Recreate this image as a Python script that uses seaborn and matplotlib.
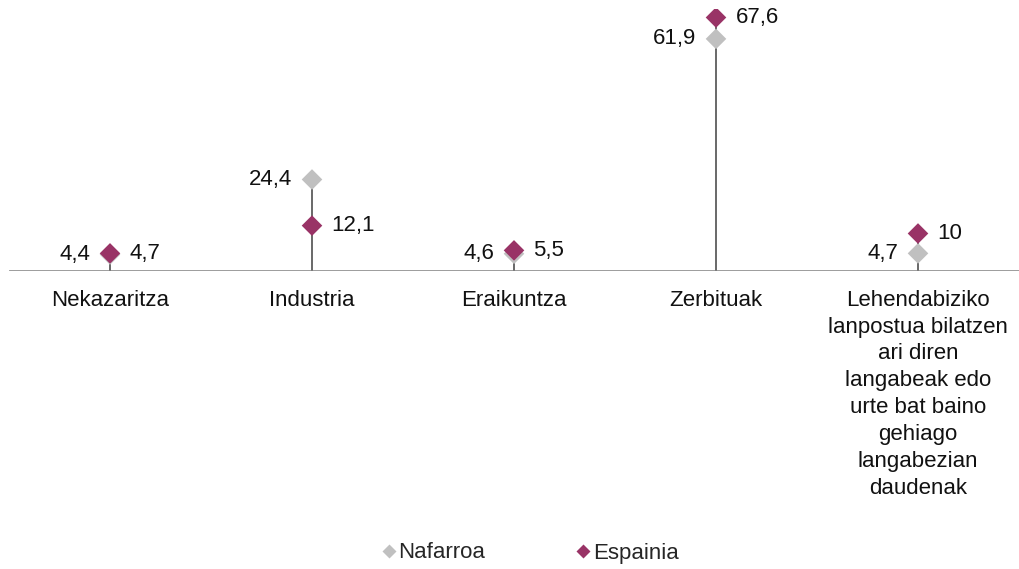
import matplotlib
matplotlib.use("Agg")
import matplotlib.pyplot as plt
import seaborn as sns
import pandas as pd
from matplotlib.lines import Line2D

categories = ["Nekazaritza", "Industria", "Eraikuntza", "Zerbituak",
              "Lehendabiziko\nlanpostua bilatzen\nari diren\nlangabeak edo\nurte bat baino\ngehiago\nlangabezian\ndaudenak"]
nafarroa = [4.4, 24.4, 4.6, 61.9, 4.7]
espainia = [4.7, 12.1, 5.5, 67.6, 10.0]
nafarroa_labels = ["4,4", "24,4", "4,6", "61,9", "4,7"]
espainia_labels = ["4,7", "12,1", "5,5", "67,6", "10"]
series_names = ["Nafarroa", "Espainia"]
colors = {"Nafarroa": "#C0C0C0", "Espainia": "#993366"}

sns.set_theme(style="white")
plt.rcParams["font.family"] = ["Liberation Sans", "DejaVu Sans"]
FS = 16

df = pd.DataFrame({
    "cat": categories * 2,
    "value": nafarroa + espainia,
    "region": ["Nafarroa"] * len(categories) + ["Espainia"] * len(categories),
})

fig = plt.figure(figsize=(10.2, 5.69), dpi=100)
ax = fig.add_axes([9 / 1020, 1 - 271 / 569, 1010 / 1020, 262.5 / 569])

# drop lines
for i, (a, b) in enumerate(zip(nafarroa, espainia)):
    ax.vlines(i, 0, max(a, b), color="#404040", linewidth=1.1, zorder=1)

sns.scatterplot(data=df, x="cat", y="value", hue="region", palette=colors,
                marker="D", s=110, edgecolor="none", legend=False, ax=ax, zorder=3)

ax.axhline(0, color="#808080", linewidth=1.8, zorder=2)

for i, (a, b) in enumerate(zip(nafarroa, espainia)):
    ax.annotate(nafarroa_labels[i], (i, a), xytext=(-14, 0), textcoords="offset points",
                ha="right", va="center", fontsize=FS, color="#111111")
    ax.annotate(espainia_labels[i], (i, b), xytext=(14, 0), textcoords="offset points",
                ha="left", va="center", fontsize=FS, color="#111111")

ax.set_xlim(-0.5, 4.5)
ax.set_ylim(0, 70)
ax.set_yticks([])
ax.set_xticks(range(len(categories)))
ax.set_xticklabels(categories, fontsize=FS, color="#111111", linespacing=1.365)
ax.tick_params(axis="x", length=0, pad=13.5)
ax.set_xlabel("")
ax.set_ylabel("")
for s in ax.spines.values():
    s.set_visible(False)

handles = [Line2D([], [], marker="D", linestyle="none", markersize=7,
                  markerfacecolor=colors[n], markeredgecolor="none") for n in series_names]
fig.legend(handles, series_names, loc="center", bbox_to_anchor=(0.519, 1 - 553 / 569),
           ncol=2, frameon=False, fontsize=FS, handletextpad=0.05,
           columnspacing=4.0, handlelength=0.8)

fig.savefig("out.png", dpi=100)
